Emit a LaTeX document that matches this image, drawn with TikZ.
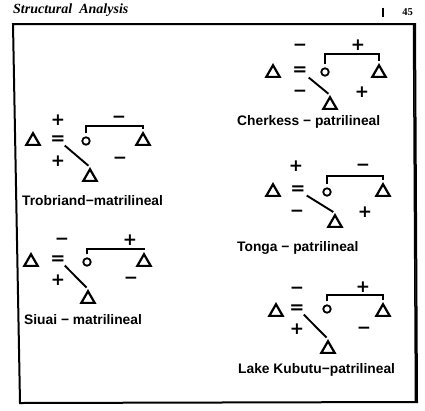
\documentclass[tikz,border=0pt]{standalone}
\usepackage{fontspec}
\setmainfont{Liberation Serif}
\newfontfamily\lblfont{Liberation Sans}
\newfontfamily\sgnfont{DejaVu Sans}
\usetikzlibrary{shapes.geometric}
\tikzset{
  tri/.style={draw, regular polygon, regular polygon sides=3, minimum size=15.5pt, inner sep=0pt, line width=2.2pt, line join=miter},
  fem/.style={draw, circle, minimum size=7.5pt, inner sep=0pt, line width=1.8pt},
  eqs/.style={font=\sgnfont\bfseries\fontsize{18}{18}\selectfont, inner sep=0pt},
  sgn/.style={font=\sgnfont\bfseries\fontsize{17}{17}\selectfont, inner sep=0pt},
  lbl/.style={font=\lblfont\bfseries\fontsize{13.8}{14}\selectfont, inner sep=0pt, anchor=west},
  link/.style={line width=1.9pt},
  brk/.style={line width=1.8pt},
  frame/.style={line width=2pt}
}
\begin{document}
\begin{tikzpicture}[x=1pt,y=-1pt]
\useasboundingbox (0,0) rectangle (425,410);
% header
\node[font=\bfseries\itshape\fontsize{14}{15}\selectfont, anchor=west, inner sep=0pt] (hd) at (13,10) {Structural\ \ Analysis};
\node[font=\bfseries\fontsize{10.5}{12}\selectfont, inner sep=0pt] (pg) at (407.5,12) {45};
\coordinate (bar1) at (383,7.5);
\coordinate (bar2) at (383,16.5);
\draw[line width=1.2pt] (bar1) -- (bar2);
% frame
\coordinate (f1) at (13,24);
\coordinate (f2) at (415,24);
\coordinate (f3) at (417,402);
\coordinate (f4) at (20,403);
\draw[frame, line join=miter] (f1) -- (f2) -- (f3) -- (f4) -- cycle;
\draw[line width=1.5pt] ([xshift=-1.5pt]f2) -- ([xshift=-1.5pt]f3);

% ---------- Trobriand ----------
\node[tri] (a1) at (33,141) {};
\node[eqs] (e1) at (58,140) {=};
\node[fem] (c1) at (86,141) {};
\node[tri] (r1) at (143,141) {};
\node[tri] (b1) at (90,177) {};
\node[sgn] at (58,120) {+};
\node[sgn] at (119,119) {−};
\node[sgn] at (58,161) {+};
\node[sgn] at (120,160) {−};
\draw[brk] ([yshift=3pt]c1.north) -- ++(0,-7.25) -| ([yshift=2.5pt]r1.north);
\draw[link, shorten >=2pt] ([xshift=-1pt,yshift=-1pt]e1.south east) -- (b1.north);
\node[lbl] (l1) at (22,201) {Trobriand−matrilineal};

% ---------- Siuai ----------
\node[tri] (a2) at (31,262) {};
\node[eqs] (e2) at (58,260) {=};
\node[fem] (c2) at (87,262) {};
\node[tri] (r2) at (144,262) {};
\node[tri] (b2) at (88,299) {};
\node[sgn] at (62,241) {−};
\node[sgn] at (130,240) {+};
\node[sgn] at (58,280) {+};
\node[sgn] at (131,280) {−};
\draw[brk] ([yshift=3pt]c2.north) -- ++(0,-5.25) -| ([yshift=2.5pt]r2.north);
\draw[link, shorten >=2pt] ([xshift=-1pt,yshift=-1pt]e2.south east) -- (b2.north);
\node[lbl] (l2) at (24,320) {Siuai − matrilineal};

% ---------- Cherkess ----------
\node[tri] (a3) at (273,73) {};
\node[eqs] (e3) at (300,71) {=};
\node[fem] (c3) at (325,72) {};
\node[tri] (r3) at (379,73) {};
\node[tri] (b3) at (330,105) {};
\node[sgn] at (300,47) {−};
\node[sgn] at (358,45) {+};
\node[sgn] at (300,93) {−};
\node[sgn] at (362,92) {+};
\draw[brk] ([yshift=3pt]c3.north) -- ++(0,-10.5) -| ([yshift=2.5pt]r3.north);
\draw[link, shorten >=2pt] ([xshift=1pt,yshift=-2pt]e3.south east) -- (b3.north);
\node[lbl] (l3) at (237,122) {Cherkess − patrilineal};

% ---------- Tonga ----------
\node[tri] (a4) at (273,192) {};
\node[eqs] (e4) at (298,190) {=};
\node[fem] (c4) at (327,192) {};
\node[tri] (r4) at (383,192) {};
\node[tri] (b4) at (335,223) {};
\node[sgn] at (296,166) {+};
\node[sgn] at (363,167) {−};
\node[sgn] at (297,213) {−};
\node[sgn] at (365,212) {+};
\draw[brk] ([yshift=3pt]c4.north) -- ++(0,-8.25) -| ([yshift=2.5pt]r4.north);
\draw[link, shorten >=2pt] ([xshift=1pt,yshift=-1pt]e4.south east) -- (b4.north);
\node[lbl] (l4) at (237,248) {Tonga − patrilineal};

% ---------- Lake Kubutu ----------
\node[tri] (a5) at (276,312) {};
\node[eqs] (e5) at (297,309) {=};
\node[fem] (c5) at (327,309) {};
\node[tri] (r5) at (383,312) {};
\node[tri] (b5) at (328,349) {};
\node[sgn] at (297,290) {−};
\node[sgn] at (363,287) {+};
\node[sgn] at (297,329) {+};
\node[sgn] at (364,330) {−};
\draw[brk] ([yshift=3pt]c5.north) -- ++(0,-6.25) -| ([yshift=2.5pt]r5.north);
\draw[link, shorten >=2pt] ([xshift=-1pt,yshift=-1pt]e5.south east) -- (b5.north);
\node[lbl] (l5) at (238,370) {Lake Kubutu−patrilineal};
\end{tikzpicture}
\end{document}
